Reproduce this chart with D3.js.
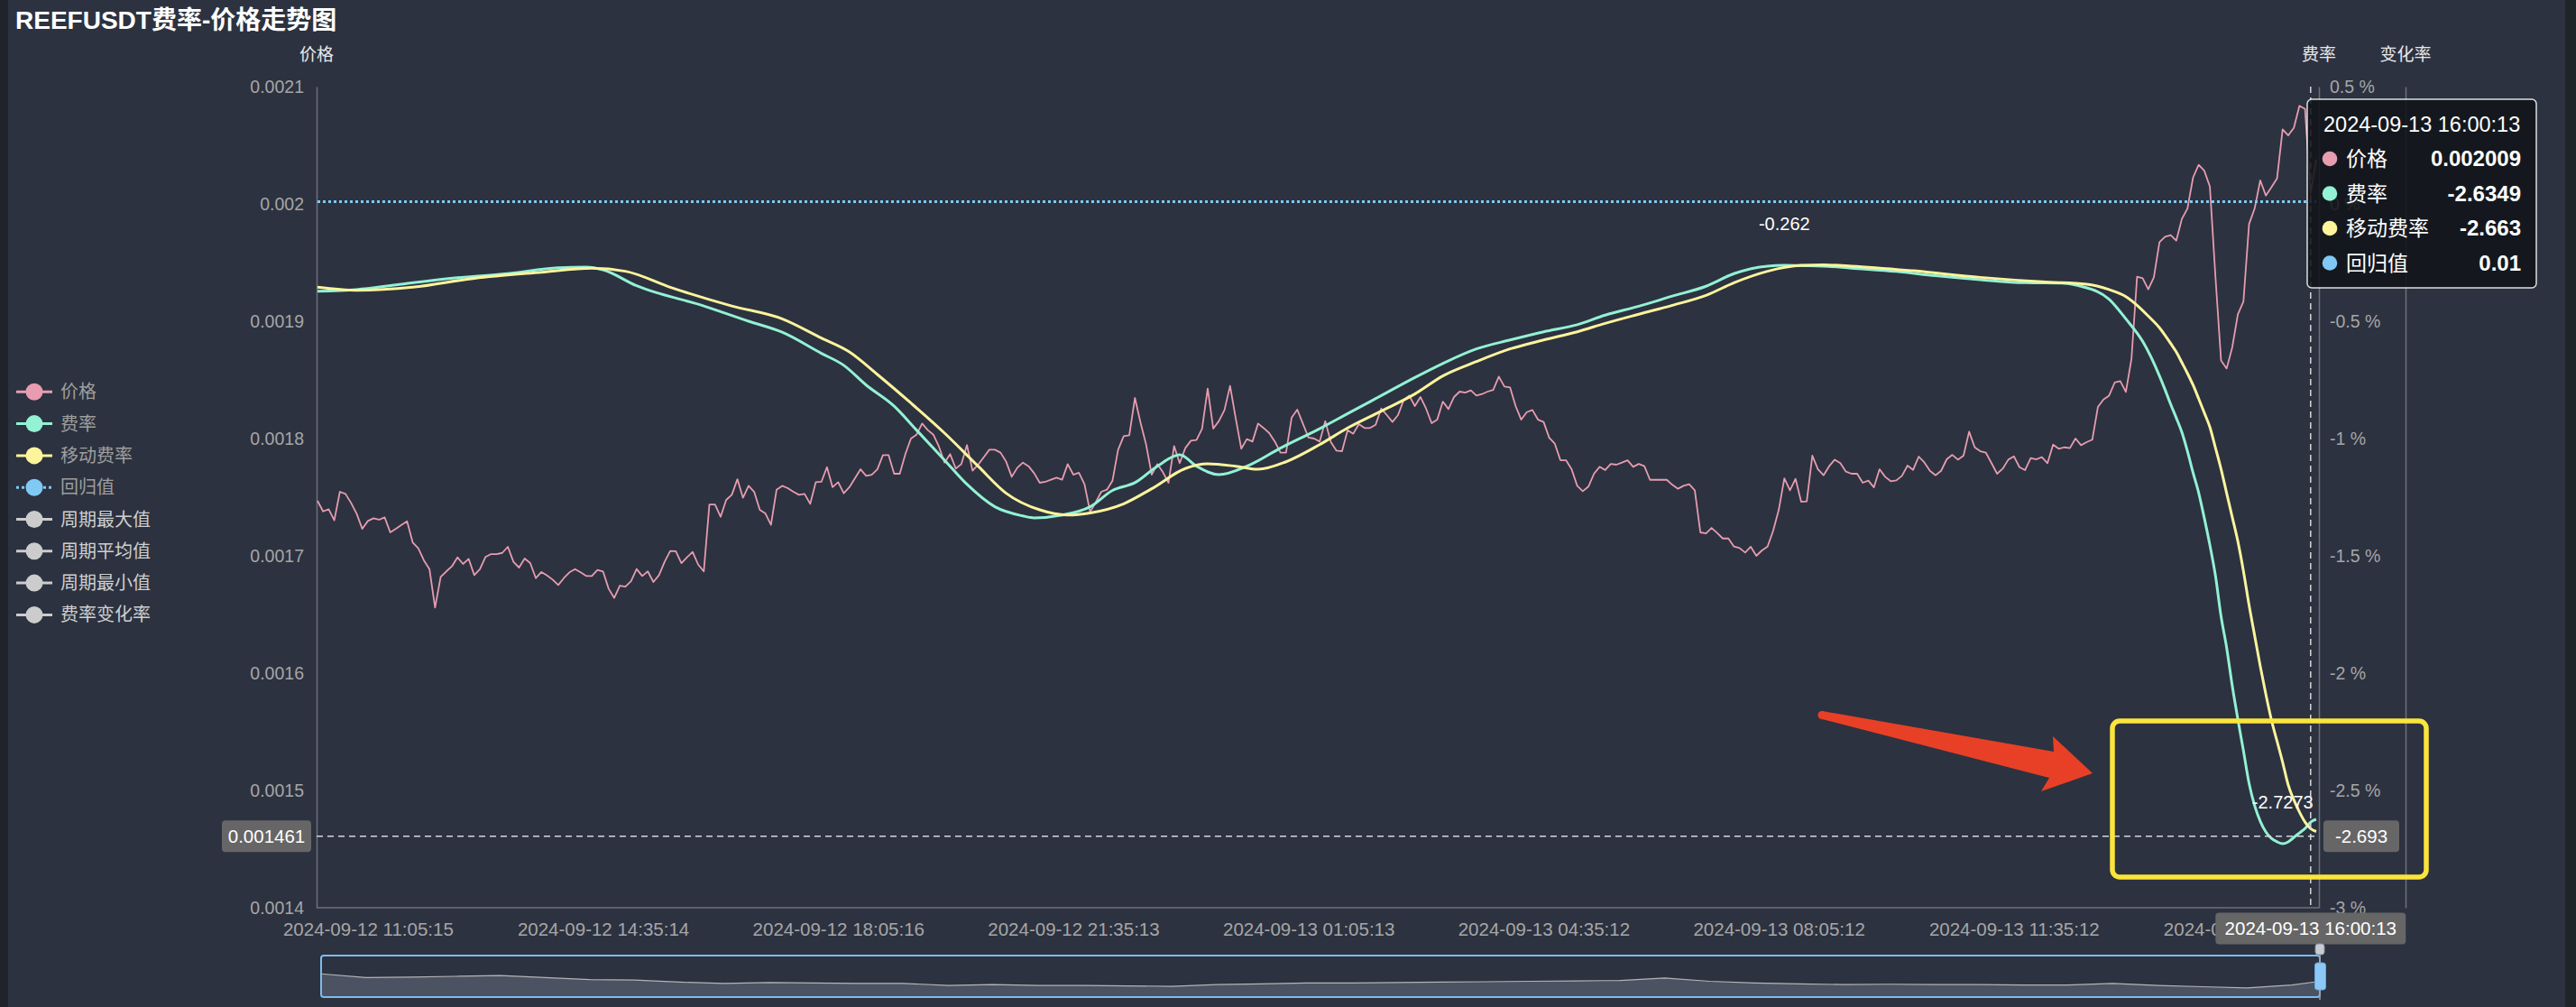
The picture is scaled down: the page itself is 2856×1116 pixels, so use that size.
<!DOCTYPE html>
<html>
<head>
<meta charset="utf-8">
<script src="https://cdn.jsdelivr.net/npm/d3@7/dist/d3.min.js"></script>
<style>
  html, body { margin: 0; padding: 0; background: #2c3240; }
  svg { display: block; }
  text { font-family: "Liberation Sans", "Noto Sans CJK SC", sans-serif; }
</style>
</head>
<body>
<div class="chart"></div>
<script>
// price (价格), one value per 5 minutes
var priceValues = [
  0.0017469, 0.0017379, 0.0017397, 0.0017303, 0.0017546, 0.0017528, 0.0017451, 0.0017359, 0.0017230, 0.0017297,
  0.0017320, 0.0017308, 0.0017328, 0.0017200, 0.0017230, 0.0017264, 0.0017295, 0.0017115, 0.0017064, 0.0016962,
  0.0016887, 0.0016559, 0.0016820, 0.0016867, 0.0016910, 0.0016987, 0.0016931, 0.0016974, 0.0016836, 0.0016885,
  0.0016990, 0.0017015, 0.0017015, 0.0017025, 0.0017077, 0.0016949, 0.0016900, 0.0016977, 0.0016938, 0.0016810,
  0.0016862, 0.0016833, 0.0016797, 0.0016751, 0.0016810, 0.0016859, 0.0016887, 0.0016859, 0.0016828, 0.0016828,
  0.0016879, 0.0016867, 0.0016720, 0.0016641, 0.0016746, 0.0016738, 0.0016784, 0.0016887, 0.0016828, 0.0016867,
  0.0016777, 0.0016836, 0.0016949, 0.0017041, 0.0017039, 0.0016938, 0.0016987, 0.0017033, 0.0016925, 0.0016867,
  0.0017438, 0.0017438, 0.0017333, 0.0017477, 0.0017520, 0.0017653, 0.0017495, 0.0017597, 0.0017546, 0.0017392,
  0.0017361, 0.0017264, 0.0017564, 0.0017597, 0.0017577, 0.0017546, 0.0017520, 0.0017528, 0.0017443, 0.0017628,
  0.0017631,
  0.0017756, 0.0017585, 0.0017628, 0.0017533, 0.0017585, 0.0017661, 0.0017738, 0.0017682, 0.0017692, 0.0017738,
  0.0017859, 0.0017859, 0.0017700, 0.0017700, 0.0017867, 0.0018000, 0.0018033, 0.0018128, 0.0018072, 0.0018033,
  0.0017931, 0.0017795, 0.0017867, 0.0017744, 0.0017782, 0.0017944, 0.0017726, 0.0017777, 0.0017841, 0.0017905,
  0.0017905, 0.0017880, 0.0017803, 0.0017674, 0.0017751, 0.0017795, 0.0017764, 0.0017705, 0.0017623, 0.0017631,
  0.0017649, 0.0017667, 0.0017649, 0.0017782, 0.0017692, 0.0017708, 0.0017610, 0.0017374, 0.0017456, 0.0017546,
  0.0017564, 0.0017641, 0.0017905, 0.0018020, 0.0018028, 0.0018346, 0.0018136, 0.0017949, 0.0017692, 0.0017782,
  0.0017713, 0.0017623, 0.0017936, 0.0017790, 0.0017918, 0.0017982, 0.0017987, 0.0018084, 0.0018426, 0.0018084,
  0.0018149, 0.0018243, 0.0018449, 0.0018174, 0.0017913, 0.0017995, 0.0017974, 0.0018128, 0.0018089, 0.0018046,
  0.0017974, 0.0017880, 0.0017880, 0.0018179, 0.0018246, 0.0018128, 0.0018008, 0.0018000, 0.0017974,
  0.0018148, 0.0017969, 0.0017897, 0.0017892, 0.0018072, 0.0018041, 0.0018123, 0.0018090, 0.0018090, 0.0018118,
  0.0018256, 0.0018200, 0.0018141, 0.0018200, 0.0018328, 0.0018366, 0.0018277, 0.0018354, 0.0018256, 0.0018131,
  0.0018161, 0.0018315, 0.0018251, 0.0018354, 0.0018400, 0.0018392, 0.0018410, 0.0018366, 0.0018379, 0.0018400,
  0.0018415, 0.0018528, 0.0018443, 0.0018436, 0.0018277, 0.0018161, 0.0018225, 0.0018243, 0.0018161, 0.0018141,
  0.0018007, 0.0017956, 0.0017815, 0.0017815, 0.0017738, 0.0017597, 0.0017551, 0.0017590, 0.0017700, 0.0017759,
  0.0017731, 0.0017784, 0.0017777, 0.0017795, 0.0017815, 0.0017759, 0.0017784, 0.0017764, 0.0017648, 0.0017648,
  0.0017648, 0.0017648, 0.0017605, 0.0017572, 0.0017597, 0.0017610, 0.0017559, 0.0017200, 0.0017192, 0.0017238,
  0.0017195, 0.0017148, 0.0017148, 0.0017079, 0.0017066, 0.0017028, 0.0017077, 0.0017000, 0.0017046, 0.0017079,
  0.0017213, 0.0017392, 0.0017661, 0.0017559, 0.0017656, 0.0017461, 0.0017464, 0.0017854, 0.0017738,
  0.0017687, 0.0017764, 0.0017820, 0.0017790, 0.0017718, 0.0017700, 0.0017700, 0.0017623, 0.0017641, 0.0017584,
  0.0017738, 0.0017674, 0.0017636, 0.0017643, 0.0017682, 0.0017769, 0.0017733, 0.0017846, 0.0017797, 0.0017725,
  0.0017687, 0.0017725, 0.0017823, 0.0017861, 0.0017820, 0.0017854, 0.0018059, 0.0017925, 0.0017892, 0.0017879,
  0.0017790, 0.0017700, 0.0017743, 0.0017820, 0.0017848, 0.0017756, 0.0017731, 0.0017833, 0.0017823, 0.0017841,
  0.0017790, 0.0017948, 0.0017913, 0.0017925, 0.0017918, 0.0018000, 0.0017943, 0.0017969, 0.0017990, 0.0018269,
  0.0018333, 0.0018366, 0.0018477, 0.0018490, 0.0018397, 0.0018679, 0.0019379, 0.0019366, 0.0019272, 0.0019374,
  0.0019674, 0.0019720, 0.0019733, 0.0019687, 0.0019872, 0.0019961, 0.0020225, 0.0020333, 0.0020284, 0.0020148,
  0.0019379, 0.0018666, 0.0018597, 0.0018777, 0.0019059, 0.0019169, 0.0019828, 0.0019961, 0.0020200, 0.0020072,
  0.0020143, 0.0020218, 0.0020636, 0.0020584, 0.0020648, 0.0020836, 0.0020810, 0.002009, 0.0020379
];

// 费率 (index into the time axis, value in %)
var rateIdx = [0, 7, 14, 23, 34, 43, 48, 51, 57, 69, 77, 83, 90, 94, 98, 103, 107, 112, 116, 121,
  126, 128, 133, 138, 142, 146, 150, 154, 157, 161, 166, 172, 179, 184, 190, 196, 201, 207, 213, 219,
  225, 230, 236, 242, 248, 253, 259, 262, 266, 269, 274, 282, 289, 297, 305, 312, 315, 320, 323, 326,
  329, 330, 331, 332, 333, 334, 335, 336, 337, 338, 339, 340, 341, 342, 343, 344, 345, 346, 347, 348,
  349, 350, 351, 352, 353, 354, 355, 356, 357];
var rateVals = [-0.372, -0.365, -0.345, -0.319, -0.297, -0.272, -0.269, -0.281, -0.349, -0.435, -0.5, -0.547, -0.637, -0.688, -0.772, -0.862, -0.964, -1.092, -1.195, -1.291,
  -1.33, -1.338, -1.326, -1.291, -1.221, -1.188, -1.118, -1.069, -1.118, -1.154, -1.118, -1.041, -0.958, -0.894, -0.817, -0.74, -0.68, -0.618, -0.58, -0.545,
  -0.515, -0.474, -0.436, -0.393, -0.351, -0.297, -0.265, -0.262, -0.263, -0.265, -0.274, -0.288, -0.306, -0.323, -0.336, -0.338, -0.351, -0.406, -0.49, -0.586,
  -0.733, -0.792, -0.854, -0.912, -0.973, -1.054, -1.146, -1.231, -1.338, -1.454, -1.585, -1.758, -1.892, -2.054, -2.196, -2.331, -2.469, -2.565, -2.631, -2.677,
  -2.704, -2.719, -2.7273, -2.719, -2.7, -2.681, -2.662, -2.6349, -2.623];

// 移动费率
var maIdx = [0, 7, 17, 28, 40, 49, 55, 63, 74, 83, 90, 95, 100, 106, 112, 118, 123, 129, 134, 138,
  144, 149, 155, 159, 164, 168, 173, 179, 184, 190, 196, 201, 207, 213, 219, 225, 230, 236, 242, 248,
  253, 259, 265, 269, 274, 285, 297, 308, 316, 320, 323, 325, 327, 329, 330, 331, 332, 333, 334, 335,
  336, 337, 338, 339, 340, 341, 342, 343, 344, 345, 346, 347, 348, 349, 350, 351, 352, 353, 354, 355,
  356, 357];
var maVals = [-0.355, -0.368, -0.355, -0.317, -0.291, -0.274, -0.287, -0.355, -0.435, -0.49, -0.572, -0.631, -0.727, -0.849, -0.977, -1.118, -1.233, -1.304, -1.326, -1.317,
  -1.278, -1.214, -1.128, -1.108, -1.118, -1.131, -1.099, -1.026, -0.955, -0.883, -0.81, -0.733, -0.672, -0.618, -0.58, -0.545, -0.509, -0.47, -0.432, -0.39,
  -0.336, -0.287, -0.262, -0.26, -0.265, -0.285, -0.313, -0.332, -0.342, -0.365, -0.395, -0.432, -0.478, -0.528, -0.56, -0.595, -0.631, -0.676, -0.722, -0.772,
  -0.83, -0.89, -0.951, -1.04, -1.13, -1.233, -1.335, -1.438, -1.565, -1.71, -1.84, -1.97, -2.09, -2.2, -2.29, -2.38, -2.477, -2.54, -2.592, -2.635,
  -2.663, -2.675];

// 回归值
var regressionValue = 0.01;

// data shadow in the zoom slider (0 = bottom, 1 = top)
var shadowIdx = [0, 8, 16, 24, 32, 40, 48, 56, 64, 72, 80, 88, 96, 104, 112, 120, 128, 136, 144, 152,
  160, 168, 176, 184, 192, 200, 208, 216, 224, 232, 240, 248, 256, 264, 272, 280, 288, 296, 304, 312,
  320, 328, 336, 344, 352, 357];
var shadowVals = [0.56, 0.47, 0.48, 0.5, 0.52, 0.47, 0.42, 0.41, 0.36, 0.33, 0.35, 0.34, 0.33, 0.33, 0.28, 0.3, 0.28, 0.28, 0.27, 0.26,
  0.3, 0.32, 0.34, 0.34, 0.35, 0.36, 0.37, 0.38, 0.39, 0.4, 0.46, 0.38, 0.34, 0.32, 0.3, 0.31, 0.3, 0.3, 0.29, 0.29,
  0.33, 0.28, 0.25, 0.22, 0.29, 0.38];

var priceTicks = [0.0014, 0.0015, 0.0016, 0.0017, 0.0018, 0.0019, 0.002, 0.0021];
var rateTicks = [-3, -2.5, -2, -1.5, -1, -0.5, 0, 0.5];
var xTickIdx = [9, 51, 93, 135, 177, 219, 261, 303, 345];
var xTickLabels = ["2024-09-12 11:05:15", "2024-09-12 14:35:14", "2024-09-12 18:05:16", "2024-09-12 21:35:13",
  "2024-09-13 01:05:13", "2024-09-13 04:35:12", "2024-09-13 08:05:12", "2024-09-13 11:35:12", "2024-09-13 15:05:12"];

var legendNames = ["价格", "费率", "移动费率", "回归值", "周期最大值", "周期平均值", "周期最小值", "费率变化率"];
var legendOn = [true, true, true, true, false, false, false, false];

var pointerIndex = 356;
var pointerTime = "2024-09-13 16:00:13";
var crossPrice = 0.001461;
var crossPriceLabel = "0.001461";
var crossRateLabel = "-2.693";

(function () {
  var width = 2856, height = 1116;
  var left = 351, right = 2571, top = 96, bottom = 1006;
  var colPrice = "#e79caf", colRate = "#93f1d4", colMa = "#fdf49c", colReg = "#7fc9f5";
  var legendColors = [colPrice, colRate, colMa, colReg, "#cccccc", "#cccccc", "#cccccc", "#cccccc"];

  var svg = d3.select(".chart").append("svg")
    .attr("width", width).attr("height", height);

  svg.append("rect").attr("width", width).attr("height", height).attr("fill", "#2c3240");
  svg.append("rect").attr("width", 9).attr("height", height).attr("fill", "#1f232a");
  svg.append("rect").attr("x", width - 12).attr("width", 12).attr("height", height).attr("fill", "#1f232a");

  // scales
  var x = d3.scalePoint().domain(d3.range(priceValues.length)).range([352, 2568]);
  var yPrice = d3.scaleLinear().domain([0.0014, 0.0021]).range([bottom, top]);
  var yRate = d3.scaleLinear().domain([-3, 0.5]).range([bottom, top]);

  // title
  svg.append("text").attr("x", 17).attr("y", 32)
    .attr("font-size", 28).attr("font-weight", "bold").attr("fill", "#ffffff")
    .text("REEFUSDT费率-价格走势图");

  // axis names
  [["价格", left], ["费率", right], ["变化率", 2667]].forEach(function (d) {
    svg.append("text").attr("x", d[1]).attr("y", 67)
      .attr("text-anchor", "middle").attr("font-size", 19).attr("fill", "#e8e8e8")
      .text(d[0]);
  });

  // axes (lines only, no ticks)
  var axisCol = "#6e7079";
  var gLeft = svg.append("g").attr("transform", "translate(" + left + ",0)")
    .call(d3.axisLeft(yPrice).tickValues(priceTicks).tickSize(0).tickPadding(14)
      .tickFormat(function (d) { return String(d); }));
  var gRight = svg.append("g").attr("transform", "translate(" + right + ",0)")
    .call(d3.axisRight(yRate).tickValues(rateTicks).tickSize(0).tickPadding(12)
      .tickFormat(function (d) { return d + " %"; }));
  var gRight2 = svg.append("g").attr("transform", "translate(2667,0)")
    .call(d3.axisRight(yRate).tickValues([]).tickSize(0));
  var gBottom = svg.append("g").attr("transform", "translate(0," + bottom + ")")
    .call(d3.axisBottom(x).tickValues(xTickIdx).tickSize(0).tickPadding(16)
      .tickFormat(function (d) { return xTickLabels[xTickIdx.indexOf(d)]; }));
  gBottom.select(".domain").attr("d", "M" + left + ",0H" + right);

  [gLeft, gRight, gRight2, gBottom].forEach(function (g) {
    g.select(".domain").attr("stroke", axisCol).attr("stroke-width", 1.5);
    g.selectAll("text").attr("fill", "#a6a6a6").attr("font-size", 19.5)
      .style("font-family", "Liberation Sans, Noto Sans CJK SC, sans-serif");
  });
  gBottom.selectAll("text").attr("font-size", 20.5);

  // series
  var priceLine = d3.line()
    .x(function (d, i) { return x(i); })
    .y(function (d) { return yPrice(d); });
  svg.append("path").datum(priceValues)
    .attr("d", priceLine).attr("fill", "none")
    .attr("stroke", colPrice).attr("stroke-width", 1.8).attr("stroke-linejoin", "round");

  var rateLine = d3.line()
    .x(function (d) { return x(d[0]); })
    .y(function (d) { return yRate(d[1]); })
    .curve(d3.curveMonotoneX);

  var rateData = rateIdx.map(function (d, i) { return [d, rateVals[i]]; });
  var maData = maIdx.map(function (d, i) { return [d, maVals[i]]; });

  svg.append("path").datum(rateData).attr("d", rateLine).attr("fill", "none")
    .attr("stroke", colRate).attr("stroke-width", 3);
  svg.append("path").datum(maData).attr("d", rateLine).attr("fill", "none")
    .attr("stroke", colMa).attr("stroke-width", 3);

  svg.append("path").datum([[0, regressionValue], [priceValues.length - 1, regressionValue]])
    .attr("d", rateLine).attr("fill", "none")
    .attr("stroke", colReg).attr("stroke-width", 3).attr("stroke-dasharray", "3,3");

  // max / min labels of 费率
  var maxI = d3.maxIndex(rateVals), minI = d3.minIndex(rateVals);
  [[maxI, -46], [minI, -46]].forEach(function (d) {
    svg.append("text")
      .attr("x", x(rateIdx[d[0]])).attr("y", yRate(rateVals[d[0]]) + d[1])
      .attr("dy", "0.35em").attr("text-anchor", "middle")
      .attr("font-size", 20).attr("fill", "#ffffff")
      .text(String(rateVals[d[0]]));
  });

  // axis pointer (cross)
  var cy = yPrice(crossPrice);
  svg.append("line").attr("x1", left).attr("x2", right).attr("y1", cy).attr("y2", cy)
    .attr("stroke", "#d6d6d6").attr("stroke-width", 1.5).attr("stroke-dasharray", "7,5");
  var px = x(pointerIndex);
  svg.append("line").attr("x1", px).attr("x2", px).attr("y1", top).attr("y2", bottom)
    .attr("stroke", "#d6d6d6").attr("stroke-width", 1.5).attr("stroke-dasharray", "7,5");

  function tagBox(cx, cyy, w, label) {
    svg.append("rect").attr("x", cx - w / 2).attr("y", cyy - 17.5).attr("width", w).attr("height", 35)
      .attr("rx", 4).attr("fill", "#666666");
    svg.append("text").attr("x", cx).attr("y", cyy).attr("dy", "0.35em")
      .attr("text-anchor", "middle").attr("font-size", 20.5).attr("fill", "#ffffff").text(label);
  }
  tagBox(295.5, cy, 99, crossPriceLabel);
  tagBox(2618, cy, 84, crossRateLabel);
  tagBox(px, 1029, 211, pointerTime);

  // legend
  var legend = svg.append("g").selectAll("g").data(legendNames).enter().append("g")
    .attr("transform", function (d, i) { return "translate(0," + (434.3 + i * 35.3) + ")"; });
  legend.append("line").attr("x1", 18).attr("x2", 58)
    .attr("stroke", function (d, i) { return legendColors[i]; })
    .attr("stroke-width", 3)
    .attr("stroke-dasharray", function (d, i) { return i === 3 ? "3,3" : null; });
  legend.append("circle").attr("cx", 38).attr("r", 9.5)
    .attr("fill", function (d, i) { return legendColors[i]; });
  legend.append("text").attr("x", 67).attr("dy", "0.35em").attr("font-size", 20)
    .attr("fill", function (d, i) { return legendOn[i] ? "#9e9e9e" : "#cfcfcf"; })
    .text(function (d) { return d; });

  // zoom slider
  var sx = d3.scaleLinear().domain([0, priceValues.length - 1]).range([356, 2572]);
  var sy = d3.scaleLinear().domain([0, 1]).range([1105, 1059]);
  var shadowData = shadowIdx.map(function (d, i) { return [d, shadowVals[i]]; });
  svg.append("path").datum(shadowData)
    .attr("d", d3.area().x(function (d) { return sx(d[0]); }).y0(1105).y1(function (d) { return sy(d[1]); }))
    .attr("fill", "#4b5262");
  svg.append("path").datum(shadowData)
    .attr("d", d3.line().x(function (d) { return sx(d[0]); }).y(function (d) { return sy(d[1]); }))
    .attr("fill", "none").attr("stroke", "#b4b4b4").attr("stroke-width", 1.2);
  svg.append("rect").attr("x", 356).attr("y", 1059).attr("width", 2216).attr("height", 46)
    .attr("rx", 3).attr("fill", "none").attr("stroke", "#7ebbea").attr("stroke-width", 2);
  svg.append("line").attr("x1", 2572).attr("x2", 2572).attr("y1", 1050).attr("y2", 1108)
    .attr("stroke", "#9aa3ad").attr("stroke-width", 1.5);
  svg.append("rect").attr("x", 2567).attr("y", 1046).attr("width", 10).attr("height", 12)
    .attr("rx", 3).attr("fill", "#c8ccd2").attr("stroke", "#8a9099");
  svg.append("rect").attr("x", 2566.5).attr("y", 1067).attr("width", 12).attr("height", 30)
    .attr("rx", 3).attr("fill", "#8cc8f6").attr("stroke", "#6aa9dc");

  // tooltip
  var tt = svg.append("g").attr("transform", "translate(2558,110)");
  tt.append("rect").attr("width", 254).attr("height", 209).attr("rx", 5)
    .attr("fill", "rgba(17,20,25,0.88)").attr("stroke", "rgba(255,255,255,0.85)").attr("stroke-width", 1.5);
  tt.append("text").attr("x", 18).attr("y", 28).attr("dy", "0.35em")
    .attr("font-size", 23.5).attr("fill", "#ffffff").text(pointerTime);
  var rows = [
    ["价格", colPrice, String(priceValues[pointerIndex])],
    ["费率", colRate, String(rateVals[rateIdx.indexOf(pointerIndex)])],
    ["移动费率", colMa, String(maVals[maIdx.indexOf(pointerIndex)])],
    ["回归值", colReg, String(regressionValue)]
  ];
  rows.forEach(function (r, i) {
    var ry = 66 + i * 38.5;
    tt.append("circle").attr("cx", 25).attr("cy", ry).attr("r", 8.3).attr("fill", r[1]);
    tt.append("text").attr("x", 43).attr("y", ry).attr("dy", "0.35em")
      .attr("font-size", 23).attr("fill", "#ffffff").text(r[0]);
    tt.append("text").attr("x", 237).attr("y", ry).attr("dy", "0.35em")
      .attr("text-anchor", "end").attr("font-size", 24).attr("font-weight", "bold")
      .attr("fill", "#ffffff").text(r[2]);
  });

  // annotations drawn over the screenshot
  svg.append("rect").attr("x", 2342).attr("y", 799).attr("width", 348).attr("height", 173)
    .attr("rx", 8).attr("fill", "none").attr("stroke", "#fbe43b").attr("stroke-width", 5.5);
  svg.append("path")
    .attr("d", "M2020,788 L2277,833 L2276,816 L2320,857 L2263,877 L2272,862 L2020,797 Z")
    .attr("fill", "#e84026");
  svg.append("circle").attr("cx", 2020).attr("cy", 792.5).attr("r", 4.5).attr("fill", "#e84026");
})();
</script>
</body>
</html>
